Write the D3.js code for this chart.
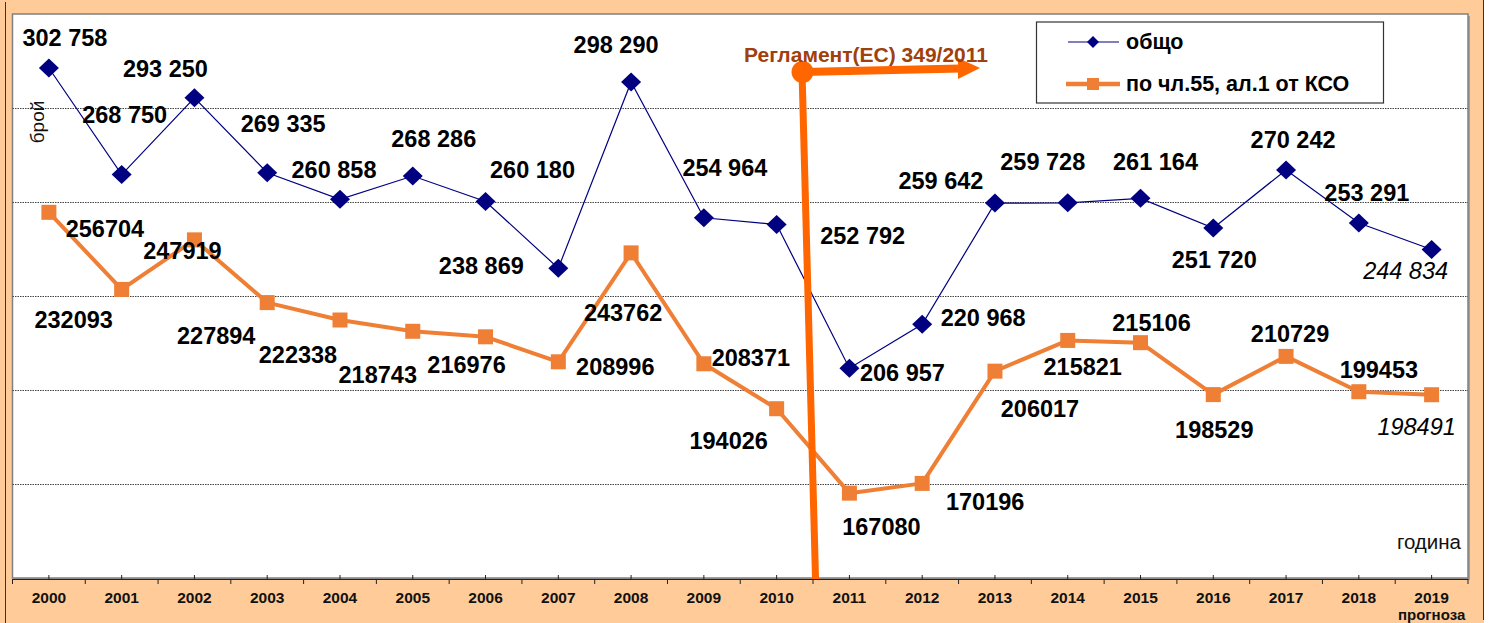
<!DOCTYPE html>
<html>
<head>
<meta charset="utf-8">
<script src="https://cdn.jsdelivr.net/npm/d3@7"></script>
<style>
  html, body { margin: 0; padding: 0; background: #ffffff; }
  svg { display: block; font-family: "Liberation Sans", Arial, sans-serif; }
</style>
</head>
<body>
<svg id="chart" width="1493" height="623"></svg>
<script>
// Categories and series
const years = ["2000","2001","2002","2003","2004","2005","2006","2007","2008","2009",
               "2010","2011","2012","2013","2014","2015","2016","2017","2018","2019"];
const totalValues = [302758, 268750, 293250, 269335, 260858, 268286, 260180, 238869, 298290, 254964,
                     252792, 206957, 220968, 259642, 259728, 261164, 251720, 270242, 253291, 244834];
const art55Values = [256704, 232093, 247919, 227894, 222338, 218743, 216976, 208996, 243762, 208371,
                     194026, 167080, 170196, 206017, 215821, 215106, 198529, 210729, 199453, 198491];
const forecastYear = "2019";
const yTicks = [170000, 200000, 230000, 260000, 290000];
const seriesNames = ["общо", "по чл.55, ал.1 от КСО"];
const regulationText = "Регламент(ЕС) 349/2011";
const regulationYear = "2011";

// Label placement relative to each point: [dx of text centre, dy of baseline]
const totalLabelOffsets = [[16,-22],[3,-52],[-29,-21],[16,-41],[-6,-21],[21,-29],[47,-23],[-77,6],[-15,-29],[21,-42],
                           [86,19],[53,13],[61,2],[-54,-14],[-25,-33],[15,-28],[1,40],[7,-22],[8,-22],[-26,29]];
const art55LabelOffsets = [[56,25],[-48,39],[-12,19],[-51,41],[-42,43],[-35,52],[-19,36],[57,13],[-8,68],[47,2],
                           [-48,40],[32,42],[63,27],[45,46],[15,35],[11,-12],[1,43],[4,-14],[20,-14],[-15,40]];

const svg = d3.select("#chart");
const W = 1493, H = 623;
const plot = { left: 12.5, right: 1468, top: 14, bottom: 578 };

const navy = "#000080", orange = "#EE7F35", regColor = "#FF6600";

// Background frame
svg.append("rect").attr("x", 0).attr("y", 0).attr("width", 1484).attr("height", H).attr("fill", "#FFCC99");
svg.append("line").attr("x1", 5.5).attr("x2", 5.5).attr("y1", 2).attr("y2", H).attr("stroke", "#333").attr("stroke-width", 1);
svg.append("line").attr("x1", 1483.5).attr("x2", 1483.5).attr("y1", 0).attr("y2", 620).attr("stroke", "#333").attr("stroke-width", 1);

// Scales
const x = d3.scaleBand().domain(years).range([plot.left, plot.right]).padding(0);
const y = d3.scaleLinear().domain([140000, 320000]).range([plot.bottom, plot.top]);
const cx = d => x(d) + x.bandwidth() / 2;

// Plot area
svg.append("rect").attr("x", plot.left + 2).attr("y", plot.top + 2)
  .attr("width", plot.right - plot.left).attr("height", plot.bottom - plot.top)
  .attr("fill", "#a0a0a0");
svg.append("rect").attr("x", plot.left).attr("y", plot.top)
  .attr("width", plot.right - plot.left).attr("height", plot.bottom - plot.top)
  .attr("fill", "#ffffff").attr("stroke", "#808080").attr("stroke-width", 1.5);

// Gridlines
svg.append("g").selectAll("line").data(yTicks).join("line")
  .attr("x1", plot.left).attr("x2", plot.right)
  .attr("y1", d => Math.round(y(d)) + 0.5).attr("y2", d => Math.round(y(d)) + 0.5)
  .attr("stroke", "#444").attr("stroke-width", 1).attr("stroke-dasharray", "1.5,1");

// Category axis
const axisY = plot.bottom + 1;
const xAxis = svg.append("g").attr("transform", `translate(0,${axisY})`);
xAxis.append("line").attr("x1", plot.left).attr("x2", plot.right).attr("y1", 0.5).attr("y2", 0.5)
  .attr("stroke", "#222").attr("stroke-width", 1.2);
const boundaries = years.map(d => x(d)).concat([plot.right]);
xAxis.selectAll("line.major").data(boundaries).join("line").attr("class", "major")
  .attr("x1", d => d).attr("x2", d => d).attr("y1", 0).attr("y2", 5)
  .attr("stroke", "#222").attr("stroke-width", 1);
xAxis.selectAll("line.minor").data(years).join("line").attr("class", "minor")
  .attr("x1", d => cx(d)).attr("x2", d => cx(d)).attr("y1", -4).attr("y2", 0)
  .attr("stroke", "#222").attr("stroke-width", 1);
xAxis.selectAll("text").data(years).join("text")
  .attr("x", d => cx(d)).attr("y", 24)
  .attr("text-anchor", "middle").attr("font-weight", "bold").attr("font-size", 15.5)
  .attr("fill", "#111").text(d => d);
svg.append("text").attr("x", cx(forecastYear)).attr("y", 620)
  .attr("text-anchor", "middle").attr("font-weight", "bold").attr("font-size", 15)
  .attr("fill", "#111").text("прогноза");

// Axis titles
svg.append("text").attr("transform", "translate(44,122) rotate(-90)")
  .attr("text-anchor", "middle").attr("font-size", 19).attr("fill", "#111").text("брой");
svg.append("text").attr("x", 1461).attr("y", 549)
  .attr("text-anchor", "end").attr("font-size", 20.5).attr("fill", "#111").text("година");

// Series
const totalPts = years.map((yr, i) => ({ yr, v: totalValues[i], off: totalLabelOffsets[i] }));
const art55Pts = years.map((yr, i) => ({ yr, v: art55Values[i], off: art55LabelOffsets[i] }));
const line = d3.line().x(d => cx(d.yr)).y(d => y(d.v));

svg.append("path").datum(art55Pts).attr("d", line)
  .attr("fill", "none").attr("stroke", orange).attr("stroke-width", 4).attr("stroke-linejoin", "round");
svg.append("g").selectAll("rect").data(art55Pts).join("rect")
  .attr("x", d => cx(d.yr) - 7.5).attr("y", d => y(d.v) - 7.5)
  .attr("width", 15).attr("height", 15).attr("fill", orange);

svg.append("path").datum(totalPts).attr("d", line)
  .attr("fill", "none").attr("stroke", navy).attr("stroke-width", 1.2);
const diamond = "M0,-9.5L10,0L0,9.5L-10,0Z";
svg.append("g").selectAll("path").data(totalPts).join("path")
  .attr("transform", d => `translate(${cx(d.yr)},${y(d.v)})`)
  .attr("d", diamond).attr("fill", navy);

// Regulation marker
const regX = x(regulationYear);
const reg = svg.append("g");
reg.append("line").attr("x1", regX - 11).attr("y1", 72).attr("x2", regX + 2.5).attr("y2", axisY)
  .attr("stroke", regColor).attr("stroke-width", 7);
reg.append("line").attr("x1", regX - 11).attr("y1", 72).attr("x2", regX + 148).attr("y2", 68.5)
  .attr("stroke", regColor).attr("stroke-width", 8);
reg.append("path").attr("d", `M${regX + 145},58 L${regX + 167},68 L${regX + 145},79 Z`).attr("fill", regColor);
reg.append("circle").attr("cx", regX - 10.5).attr("cy", 72).attr("r", 11).attr("fill", regColor);
svg.append("text").attr("x", 866).attr("y", 62).attr("text-anchor", "middle")
  .attr("font-weight", "bold").attr("font-size", 21).attr("fill", "#A0400C").text(regulationText);

// Value labels
const fmtSpace = d3.formatLocale({ decimal: ",", thousands: " ", grouping: [3], currency: ["", ""] }).format(",d");
const fmtPlain = d3.format("d");
function addLabels(pts, fmt) {
  svg.append("g").selectAll("text").data(pts).join("text")
    .attr("x", d => cx(d.yr) + d.off[0]).attr("y", d => y(d.v) + d.off[1])
    .attr("text-anchor", "middle").attr("font-size", 23.5)
    .attr("font-weight", d => d.yr === forecastYear ? "normal" : "bold")
    .attr("font-style", d => d.yr === forecastYear ? "italic" : "normal")
    .attr("fill", "#000").text(d => fmt(d.v));
}
addLabels(totalPts, fmtSpace);
addLabels(art55Pts, fmtPlain);

// Legend
const lg = svg.append("g");
lg.append("rect").attr("x", 1036.5).attr("y", 22).attr("width", 347).attr("height", 81)
  .attr("fill", "#fff").attr("stroke", "#333").attr("stroke-width", 1.2);
lg.append("line").attr("x1", 1068).attr("x2", 1119).attr("y1", 42).attr("y2", 42).attr("stroke", navy).attr("stroke-width", 1.2);
lg.append("path").attr("transform", "translate(1093,42)").attr("d", "M0,-6L6,0L0,6L-6,0Z").attr("fill", navy);
lg.append("line").attr("x1", 1066).attr("x2", 1120).attr("y1", 84).attr("y2", 84).attr("stroke", orange).attr("stroke-width", 4.5);
lg.append("rect").attr("x", 1087).attr("y", 78).attr("width", 12).attr("height", 12).attr("fill", orange);
lg.selectAll("text").data(seriesNames).join("text")
  .attr("x", 1126).attr("y", (d, i) => i === 0 ? 49 : 91)
  .attr("font-weight", "bold").attr("font-size", 21.5).attr("fill", "#000").text(d => d);
</script>
</body>
</html>
